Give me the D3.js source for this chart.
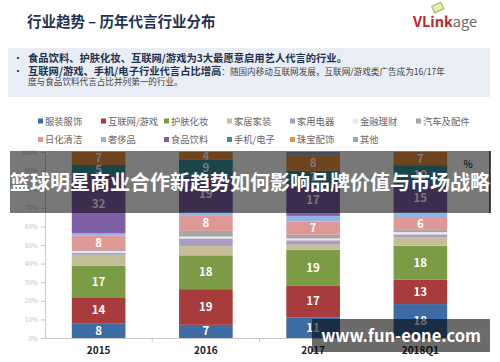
<!DOCTYPE html>
<html>
<head>
<meta charset="utf-8">
<script src="https://cdn.jsdelivr.net/npm/d3@7"></script>
<style>
  body { margin: 0; background: #fff; }
  #chart { width: 500px; height: 362px; }
  text { font-family: "Noto Sans CJK SC", "Noto Sans", sans-serif; }
</style>
</head>
<body>
<div id="chart"></div>
<script>
// data (percent share of endorsements)
var years = ["2015", "2016", "2017", "2018Q1"];
var categories = ["服装服饰", "互联网/游戏", "护肤化妆", "家居家装", "家用电器", "金融理财", "汽车及配件",
                  "日化清洁", "奢侈品", "食品饮料", "手机/电子", "珠宝配饰", "其他"];
var colors = ["#3d6ba3", "#a83b3b", "#7b9b45", "#c4bd97", "#a99cc6", "#ede7e7", "#a6a6a6",
              "#de9896", "#8fb4e3", "#7f5fa5", "#35929f", "#e8913f", "#9aa5c4"];
var values = {
    "服装服饰":   [8, 7, 11, 18],
    "互联网/游戏": [14, 19, 17, 13],
    "护肤化妆":   [17, 18, 19, 18],
    "家居家装":   [6, 5, 3, 4.5],
    "家用电器":   [1, 4, 2, 1.5],
    "金融理财":   [1, 1, 1, 1.2],
    "汽车及配件": [0.5, 3, 2, 1.5],
    "日化清洁":   [8, 8, 7, 6],
    "奢侈品":     [1, 2, 3, 3],
    "食品饮料":   [32, 19, 17, 15],
    "手机/电子":  [5, 9, 7, 10],
    "珠宝配饰":   [7, 4, 8, 7],
    "其他":       [0, 0, 2, 0]
};
var labelled = ["服装服饰", "互联网/游戏", "护肤化妆", "日化清洁", "食品饮料", "手机/电子", "珠宝配饰"];
var yTicks = [0, 0.1, 0.2, 0.3, 0.4, 0.5, 0.6, 0.7, 0.8, 0.9, 1];

var width = 500, height = 362;
var margin = {top: 152, left: 45, right: 26, bottom: 24};

var svg = d3.select("#chart")
    .append("svg")
    .attr("width", width)
    .attr("height", height);

// ---- header ----
svg.append("text")
    .attr("x", 27).attr("y", 27)
    .attr("font-size", 14.5).attr("font-weight", "bold")
    .attr("fill", "#1f3150")
    .text("行业趋势 – 历年代言行业分布");

var logo = svg.append("g");
logo.append("rect").attr("x", 433).attr("y", 4).attr("width", 10).attr("height", 7)
    .attr("transform", "rotate(-25,438,8)")
    .attr("fill", "#f4e9a8").attr("stroke", "#9cc46a").attr("stroke-width", 1.2);
logo.append("text")
    .attr("x", 413).attr("y", 27)
    .attr("font-family", "Liberation Sans, Arial, sans-serif")
    .attr("font-size", 14.5)
    .call(function(t) {
        t.append("tspan").attr("fill", "#c0282d").attr("font-weight", "bold").text("VLink");
        t.append("tspan").attr("fill", "#666").text("age");
    });

svg.append("rect")
    .attr("x", 8).attr("y", 48).attr("width", 482).attr("height", 49)
    .attr("fill", "#e9edf5");

svg.append("text").attr("x", 13).attr("y", 62).attr("font-size", 10).attr("fill", "#1f3150").text("·");
svg.append("text").attr("x", 13).attr("y", 75).attr("font-size", 10).attr("fill", "#1f3150").text("·");

svg.append("text")
    .attr("x", 28).attr("y", 61.5)
    .attr("font-size", 10.3).attr("font-weight", "bold").attr("fill", "#1f3150")
    .text("食品饮料、护肤化妆、互联网/游戏为3大最愿意启用艺人代言的行业。");

svg.append("text")
    .attr("x", 28).attr("y", 74.5)
    .attr("font-size", 10.3)
    .call(function(t) {
        t.append("tspan").attr("font-weight", "bold").attr("fill", "#1f3150").text("互联网/游戏、手机/电子行业代言占比增高");
        t.append("tspan").attr("fill", "#444").attr("font-size", 8.6).text("：随国内移动互联网发展，互联网/游戏类广告成为16/17年");
    });

svg.append("text")
    .attr("x", 28).attr("y", 85)
    .attr("font-size", 8.6).attr("fill", "#444")
    .text("度与食品饮料代言占比并列第一的行业。");

// ---- legend ----
var legend = svg.selectAll(".legend")
    .data(categories)
    .enter()
    .append("g")
        .attr("class", "legend")
        .attr("transform", function(d, i) {
            var col = i < 7 ? i : i - 7;
            var row = i < 7 ? 0 : 1;
            return "translate(" + (38 + col * 63) + "," + (121.5 + row * 18.5) + ")";
        });

legend.append("rect")
    .attr("x", 0).attr("y", -3).attr("width", 5).attr("height", 5)
    .attr("fill", function(d, i) { return colors[i]; });

legend.append("text")
    .attr("x", 7).attr("y", 3.3)
    .attr("font-size", 9.3).attr("fill", "#666")
    .text(function(d) { return d; });

// ---- stacked bars ----
var table = years.map(function(y, j) {
    var row = {year: y};
    categories.forEach(function(c) { row[c] = values[c][j]; });
    return row;
});

var stack = d3.stack().keys(categories).offset(d3.stackOffsetExpand);
var series = stack(table);

var xScale = d3.scaleBand()
    .domain(years)
    .range([margin.left, width - margin.right])
    .paddingInner(0.5)
    .paddingOuter(0.25);

var yScale = d3.scaleLinear()
    .domain([0, 1])
    .range([height - margin.bottom, margin.top]);

var colorScale = d3.scaleOrdinal().domain(categories).range(colors);

var yAxis = svg.append("g")
    .attr("transform", "translate(" + margin.left + ",0)")
    .call(d3.axisLeft(yScale).tickValues(yTicks).tickFormat(d3.format(".0%")).tickSize(4).tickPadding(3));
yAxis.selectAll("line, path").attr("stroke", "#c8c8c8");
yAxis.selectAll("text").attr("fill", "#c4c4c4").attr("font-size", 6.5)
    .attr("font-family", "Open Sans, sans-serif");

var groups = svg.selectAll(".series")
    .data(series)
    .enter()
    .append("g")
        .attr("class", "series")
        .attr("fill", function(d) { return colorScale(d.key); });

groups.selectAll("rect")
    .data(function(d) { return d; })
    .enter()
    .append("rect")
        .attr("x", function(d) { return xScale(d.data.year); })
        .attr("y", function(d) { return yScale(d[1]); })
        .attr("width", xScale.bandwidth())
        .attr("height", function(d) { return yScale(d[0]) - yScale(d[1]); });

groups.filter(function(d) { return labelled.indexOf(d.key) >= 0; })
    .selectAll("text")
    .data(function(d) { return d.map(function(p) { return {p: p, key: d.key}; }); })
    .enter()
    .append("text")
        .attr("x", function(d) { return xScale(d.p.data.year) + xScale.bandwidth() / 2; })
        .attr("y", function(d) { return (yScale(d.p[0]) + yScale(d.p[1])) / 2 + 4; })
        .attr("text-anchor", "middle")
        .attr("font-family", "Open Sans, sans-serif")
        .attr("font-weight", "bold")
        .attr("font-size", 11.5)
        .attr("fill", "#fff")
        .text(function(d) { return d.p.data[d.key]; });

var xAxis = svg.append("g")
    .attr("transform", "translate(0," + (height - margin.bottom) + ")")
    .call(d3.axisBottom(xScale).tickSize(0).tickPadding(9));
xAxis.select("path").attr("stroke", "#c8c8c8");
xAxis.selectAll("text").attr("fill", "#222").attr("font-size", 10).attr("font-weight", "bold")
    .attr("font-family", "Open Sans, sans-serif");

xAxis.selectAll(".sep")
    .data(years.slice(1))
    .enter()
    .append("line")
        .attr("class", "sep")
        .attr("x1", function(d) { return xScale(d) - xScale.step() * xScale.paddingInner() / 2; })
        .attr("x2", function(d) { return xScale(d) - xScale.step() * xScale.paddingInner() / 2; })
        .attr("y1", 0).attr("y2", 4)
        .attr("stroke", "#c8c8c8");

svg.append("text")
    .attr("x", 468).attr("y", 168)
    .attr("text-anchor", "middle")
    .attr("font-size", 10).attr("fill", "#000")
    .text("%");

// ---- overlays from the page the chart came from ----
svg.append("rect")
    .attr("x", 10).attr("y", 151).attr("width", 480).attr("height", 62)
    .attr("fill", "#000").attr("opacity", 0.53);
svg.append("line")
    .attr("x1", 490).attr("x2", 490).attr("y1", 151).attr("y2", 213)
    .attr("stroke", "#111").attr("stroke-width", 1.5);

svg.append("text")
    .attr("x", 250).attr("y", 190)
    .attr("text-anchor", "middle")
    .attr("font-size", 20).attr("font-weight", "bold")
    .attr("fill", "#fff")
    .text("篮球明星商业合作新趋势如何影响品牌价值与市场战略");

svg.append("rect")
    .attr("x", 312).attr("y", 319).attr("width", 178).attr("height", 33)
    .attr("fill", "#000").attr("opacity", 0.58);

svg.append("text")
    .attr("x", 401).attr("y", 342)
    .attr("text-anchor", "middle")
    .attr("font-family", "DejaVu Sans, sans-serif")
    .attr("font-size", 16.5).attr("font-weight", "bold")
    .attr("fill", "#fff")
    .text("www.fun-eone.com");
</script>
</body>
</html>
